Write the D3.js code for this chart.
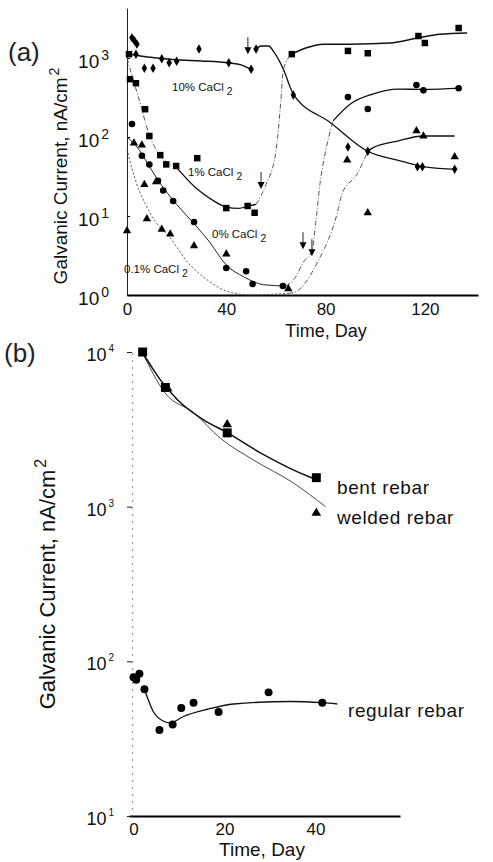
<!DOCTYPE html>
<head>
<meta charset="utf-8">
<script src="https://d3js.org/d3.v7.min.js"></script>
<style>
  body { margin: 0; background: #fff; }
  svg { font-family: "Liberation Sans", Arial, sans-serif; }
</style>
</head>
<body>
<svg width="493" height="862"></svg>

<script type="text/javascript">

// ---------- panel (a): galvanic current vs time, [day, nA/cm2] ----------
var pts10 = [[2,1800],[3,1650],[4,1500],[3.6,1120],[7,745],[10.5,745],[14,980],[17,870],[20,910],
             [29,1300],[41,870],[50,720],[52,1300],[67,340],[89,75],[97,66],[117,42],[119,42],[132,39]];
var pts1  = [[0.8,1120],[1.2,540],[3.6,480],[7.3,225],[9,103],[13.4,59],[15.8,45],[19.8,43],[28.3,54],
             [40,12.6],[48.6,13.4],[51.4,11],[66.4,1120],[89,1230],[97,1150],[117.4,1900],[120,1550],[133.6,2400]];
var pts0  = [[2,146],[6,58],[9,45],[12.5,28],[14.6,21],[18.6,15.5],[27,8.4],[40,2.2],[48,2.0],
             [50.6,1.38],[62.8,1.3],[89,320],[97,226],[116.6,455],[119.4,390],[133.6,415]];
var pts01 = [[0,6.5],[2.8,84],[6,79],[7,25],[11.7,27],[8,9.2],[14,6.8],[17.4,5.9],[27,4.2],[40,3.3],
             [65,1.2],[88.7,51],[97,11],[116.6,120],[119.4,103],[132,56]];

// fitted curves, split where the original changes line style
var fit10a = [[0,1130],[6,1050],[12,1000],[20,950],[30,920],[41,870],[46,820],[50,720]];
var fit10b = [[52,1300],[54,1420],[57,1420],[59.5,1150],[63,720],[67,350],[82,152],[97,66],[110,50],[120,42],[133,39]];
var fit1a  = [[0,1000],[2,600],[5,290],[8.9,108],[12.9,61],[16,48],[20,41]];
var fit1b  = [[20,41],[27.8,22.6],[33,17],[40,13],[45,12.5],[49,13.4],[52,14]];
var fit1c  = [[52,14],[56,25],[60,66],[62,290],[63,720],[66.4,1120]];
var fit1d  = [[66.4,1120],[72,1340],[79,1500],[90,1500],[106,1550],[117,1790],[126,2000],[137,2080]];
var fit0a  = [[0,100],[4,75],[8,48],[12,30],[16,20],[20,14],[27,8],[33,4.8],[40,2.4],[47,1.7],[55,1.35],[64,1.3]];
var fit0b  = [[64,1.3],[68,1.7],[71,2.6],[74.5,3.6],[76,8],[77.7,25],[80,66],[83,160]];
var fit0c  = [[83,160],[90,262],[99,350],[109,405],[120,400],[134,415]];
var fit01a = [[0,70],[2,40],[4,25],[8,13],[12,8],[17,5.5],[24,2.7],[33,1.5],[40,1.12],[50,1.0],[65,1.05]];
var fit01b = [[65,1.05],[68,1.1],[77,2.7],[84.6,10.6],[86.6,19],[92.7,34],[97,66]];
var fit01c = [[97,66],[99,73],[109,89],[119.4,103],[132,103]];

var arrowTips = [[48.7,1120],[54,22],[70.9,3.8],[74.5,3.1]];

var ticksXa = [0, 40, 80, 120];
var ticksYa = [1, 10, 100, 1000];

// ---------- panel (b) ----------
var bentPts    = [[2,10000],[7,5900],[20.6,3000],[40.2,1540]];
var weldedPts  = [[7.5,5800],[20.6,3400],[40.2,910]];
var regularPts = [[0,79],[0.6,76],[1.3,83],[2.4,66],[5.7,36],[8.6,39],[10.5,50],[13.2,54],[18.7,47],[29.7,63],[41.5,54]];

var fitBent    = [[2,9850],[3.7,8240],[5.9,6600],[9.7,4900],[15.4,3640],[20.7,3000],[27.9,2230],[38.9,1550],[40.2,1500]];
var fitWelded  = [[2,9850],[7,5400],[13.2,4060],[19.1,2770],[26.4,2000],[35.2,1420],[42.2,1000]];
var fitRegular = [[2.4,66],[4.4,47],[6.6,41],[8.1,40],[11,44],[16.3,49],[22,53],[34.5,55],[41.5,54],[44.8,53]];

var ticksXb = [0, 20, 40];
var ticksYb = [10, 100, 1000, 10000];


var svg = d3.select("svg");
svg.append("rect").attr("width", 493).attr("height", 862).attr("fill", "#fff");

var xa = d3.scaleLinear().domain([0, 141.4]).range([127, 478]);
var ya = d3.scaleLog().domain([1, 4300]).range([295, 8]);
var xb = d3.scaleLinear().domain([-1, 58.6]).range([129, 400]);
var yb = d3.scaleLog().domain([10, 10000]).range([816, 352]);

function power10(g, x, y, exp, size, supSize, supDy) {
  var t = g.append("text").attr("x", x).attr("y", y).attr("text-anchor", "end")
    .attr("font-size", size).attr("fill", "#111");
  t.append("tspan").text("10");
  t.append("tspan").attr("dy", supDy).attr("font-size", supSize).attr("dx", 2).text(exp);
}

function label(x, y, main, sub, size) {
  var t = svg.append("text").attr("x", x).attr("y", y).attr("font-size", size).attr("fill", "#111");
  t.append("tspan").text(main);
  t.append("tspan").attr("dx", 3).attr("dy", 4).attr("font-size", size * 0.9).text(sub);
}

function drawSymbols(data, x, y, type, size) {
  svg.append("g").selectAll("path").data(data).enter().append("path")
    .attr("transform", function(d) { return "translate(" + x(d[0]) + "," + y(d[1]) + ")"; })
    .attr("d", d3.symbol().type(type).size(size))
    .attr("fill", "#000");
}

function drawCurve(data, x, y, width, dash, color) {
  var line = d3.line().curve(d3.curveMonotoneX)
    .x(function(d) { return x(d[0]); })
    .y(function(d) { return y(d[1]); });
  svg.append("path").datum(data).attr("d", line)
    .attr("fill", "none").attr("stroke", color).attr("stroke-width", width)
    .attr("stroke-dasharray", dash);
}

// ================= panel (a) =================
var gxa = svg.append("g").attr("transform", "translate(0,295)")
  .call(d3.axisBottom(xa).tickValues(ticksXa).tickSize(0).tickPadding(8).tickSizeOuter(0));
gxa.select(".domain").attr("stroke", "#000").attr("stroke-width", 2.2);
gxa.selectAll("text").attr("font-size", 17).attr("font-family", "Liberation Sans, Arial").attr("fill", "#111");

var gya = svg.append("g").attr("transform", "translate(127,0)")
  .call(d3.axisLeft(ya).tickValues(ticksYa).tickFormat("").tickSize(-3).tickSizeOuter(0));
gya.select(".domain").attr("stroke", "#222").attr("stroke-width", 1);

ticksYa.forEach(function(v) {
  power10(svg, 109, ya(v) + 10, Math.round(Math.log10(v)), 19, 14, -8);
});

svg.append("text").attr("x", 326).attr("y", 337).attr("text-anchor", "middle")
  .attr("font-size", 18).attr("fill", "#111").text("Time, Day");

var ttA = svg.append("text").attr("transform", "translate(67,176) rotate(-90)")
  .attr("text-anchor", "middle").attr("font-size", 19).attr("fill", "#111");
ttA.append("tspan").text("Galvanic Current, nA/cm");
ttA.append("tspan").attr("dy", -8).attr("dx", 2).attr("font-size", 14).text("2");

svg.append("text").attr("x", 8).attr("y", 61).attr("font-size", 26).attr("font-weight", 300)
  .attr("fill", "#222").text("(a)");

// curves: solid main fits, dash-dot for the transitions
var solid = "none", dashdot = "5,2,1,2", dotted = "2,2";
drawCurve(fit10a, xa, ya, 1.5, solid, "#111");
drawCurve(fit10b, xa, ya, 1.3, solid, "#111");
drawCurve(fit1a, xa, ya, 0.9, dashdot, "#444");
drawCurve(fit1b, xa, ya, 1.3, solid, "#111");
drawCurve(fit1c, xa, ya, 0.9, dashdot, "#444");
drawCurve(fit1d, xa, ya, 1.5, solid, "#111");
drawCurve(fit0a, xa, ya, 1.0, solid, "#222");
drawCurve(fit0b, xa, ya, 0.9, dashdot, "#444");
drawCurve(fit0c, xa, ya, 1.3, solid, "#111");
drawCurve(fit01a, xa, ya, 0.9, dotted, "#444");
drawCurve(fit01b, xa, ya, 0.9, dashdot, "#444");
drawCurve(fit01c, xa, ya, 1.3, solid, "#111");

drawSymbols(pts10, xa, ya, d3.symbolDiamond, 26);
drawSymbols(pts1, xa, ya, d3.symbolSquare, 42);
drawSymbols(pts0, xa, ya, d3.symbolCircle, 34);
drawSymbols(pts01, xa, ya, d3.symbolTriangle, 30);

// arrows marking the change of solution
arrowTips.forEach(function(d) {
  var x = xa(d[0]), y = ya(d[1]);
  svg.append("line").attr("x1", x).attr("x2", x).attr("y1", y - 17).attr("y2", y - 4)
    .attr("stroke", "#222").attr("stroke-width", 1);
  svg.append("path").attr("d", "M" + (x - 3.5) + "," + (y - 7) + "L" + (x + 3.5) + "," + (y - 7) + "L" + x + "," + y + "Z")
    .attr("fill", "#000");
});

label(172, 91, "10% CaCl", "2", 11.5);
label(188, 176, "1% CaCl", "2", 11.5);
label(212, 238, "0% CaCl", "2", 11.5);
label(124, 273, "0.1% CaCl", "2", 11.5);

// ================= panel (b) =================
var gxb = svg.append("g").attr("transform", "translate(0,816)")
  .call(d3.axisBottom(xb).tickValues(ticksXb).tickSize(0).tickPadding(7).tickSizeOuter(0));
gxb.select(".domain").attr("stroke", "#000").attr("stroke-width", 2);
gxb.selectAll("text").attr("font-size", 17).attr("font-family", "Liberation Sans, Arial").attr("fill", "#111");

var gyb = svg.append("g").attr("transform", "translate(132,0)")
  .call(d3.axisLeft(yb).tickValues(ticksYb).tickFormat("").tickSize(5).tickSizeOuter(0));
gyb.select(".domain").attr("stroke", "#333").attr("stroke-width", 1.2).attr("stroke-dasharray", "1,6");
gyb.selectAll(".tick line").attr("stroke", "#222");

ticksYb.forEach(function(v) {
  power10(svg, 114, yb(v) + 9, Math.round(Math.log10(v)), 18, 10, -9);
});

svg.append("text").attr("x", 262).attr("y", 856).attr("text-anchor", "middle")
  .attr("font-size", 19).attr("fill", "#111").text("Time, Day");

var ttB = svg.append("text").attr("transform", "translate(55,584) rotate(-90)")
  .attr("text-anchor", "middle").attr("font-size", 22).attr("fill", "#111");
ttB.append("tspan").text("Galvanic Current, nA/cm");
ttB.append("tspan").attr("dy", -9).attr("dx", 2).attr("font-size", 16).text("2");

svg.append("text").attr("x", 4).attr("y", 362).attr("font-size", 26).attr("font-weight", 300)
  .attr("fill", "#222").text("(b)");

drawCurve(fitWelded, xb, yb, 0.9, solid, "#333");
drawCurve(fitBent, xb, yb, 1.5, solid, "#111");
drawCurve(fitRegular, xb, yb, 1.3, solid, "#111");

drawSymbols(bentPts, xb, yb, d3.symbolSquare, 80);
drawSymbols(weldedPts, xb, yb, d3.symbolTriangle, 40);
drawSymbols(regularPts, xb, yb, d3.symbolCircle, 50);

svg.append("text").attr("x", 337).attr("y", 494).attr("font-size", 19).attr("letter-spacing", 0.6).attr("fill", "#111").text("bent rebar");
svg.append("text").attr("x", 337).attr("y", 524).attr("font-size", 19).attr("letter-spacing", 0.6).attr("fill", "#111").text("welded rebar");
svg.append("text").attr("x", 348).attr("y", 717).attr("font-size", 19).attr("letter-spacing", 0.6).attr("fill", "#111").text("regular rebar");

</script>
</body>
</html>
